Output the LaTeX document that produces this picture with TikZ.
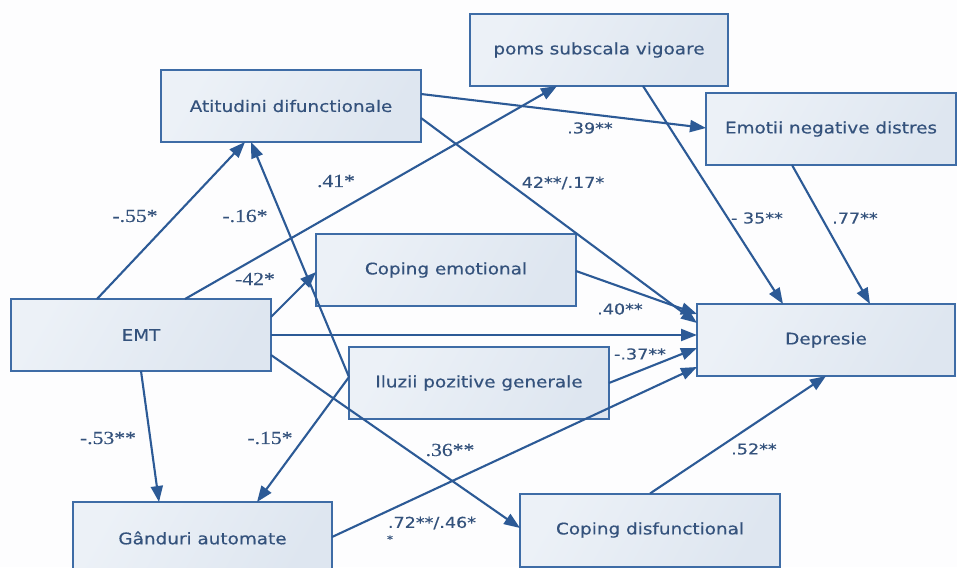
\documentclass[tikz,border=0pt]{standalone}
\usepackage{fontspec}
\usetikzlibrary{arrows.meta}
\newfontfamily\boxfont[FakeStretch=1.15,FakeBold=0.4]{DejaVu Sans}
\newfontfamily\lblsans[FakeStretch=1.17,FakeBold=0.3]{DejaVu Sans}
\newfontfamily\lblserif[FakeStretch=1.17,FakeBold=0.3]{Liberation Serif}
\definecolor{edgeblue}{RGB}{44,90,150}
\definecolor{frameblue}{RGB}{62,108,166}
\definecolor{fillA}{RGB}{236,241,247}
\definecolor{fillB}{RGB}{222,230,240}
\definecolor{txtblue}{RGB}{52,82,124}
\definecolor{bgwhite}{RGB}{253,253,254}
\begin{document}
\begin{tikzpicture}[x=1pt,y=-1pt,
  var/.style={draw=frameblue, line width=2pt, left color=fillA, right color=fillB,
    shading angle=60, minimum width=260pt, minimum height=72pt, inner sep=0pt,
    outer sep=0pt, text=txtblue, font=\boxfont\fontsize{16}{18}\selectfont},
  path/.style={draw=edgeblue, line width=2.1pt,
    -{Triangle[length=16pt,width=12pt]}},
  coefs/.style={text=txtblue, font=\lblsans\fontsize{15}{17}\selectfont, inner sep=0pt},
  coefr/.style={text=txtblue, font=\lblserif\fontsize{18.5}{20}\selectfont, inner sep=0pt}]

% canvas
\fill[bgwhite] (0,0) rectangle (957,567);
\useasboundingbox (0,0) rectangle (957,567);

% variables
\node[var] (att)  at (291,106) {Atitudini difunctionale};
\node[var, minimum width=258pt] (poms) at (599,50) {poms subscala vigoare};
\node[var, minimum width=250pt] (emo)  at (831,129) {Emotii negative distres};
\node[var] (cope) at (446,270) {Coping emotional};
\node[var] (emt)  at (141,335) {EMT};
\node[var, minimum width=258pt] (dep)  at (826,340) {Depresie};
\node[var] (ilu)  at (479,383) {Iluzii pozitive generale};
\node[var, minimum width=259pt] (gand) at (202.5,538) {Gânduri automate};
\node[var, minimum height=73pt] (cdis) at (650,530) {Coping disfunctional};

% paths leaving EMT
\draw[path] ([xshift=86pt]emt.north west) -- ([xshift=84pt]att.south west);
\draw[path] ([xshift=174pt]emt.north west) -- ([xshift=87pt]poms.south west);
\draw[path] ([yshift=18pt]emt.east) -- ([yshift=-2pt]cope.west);
\draw[path] (emt.east) -- ([yshift=5pt]dep.west);
\draw[path] ([yshift=-20pt]emt.east) -- ([yshift=2pt]cdis.west);
\draw[path] (emt.south) -- ([xshift=86pt]gand.north west);

% paths leaving Iluzii pozitive generale
\draw[path] ([yshift=6pt]ilu.west) -- ([xshift=90pt]att.south west);
\draw[path] ([yshift=6pt]ilu.west) -- ([xshift=184pt]gand.north west);
\draw[path] (ilu.east) -- ([yshift=-8pt]dep.west);

% paths leaving Atitudini difunctionale
\draw[path] ([yshift=12pt]att.east) -- ([yshift=1pt]emo.west);
\draw[path] ([yshift=-12pt]att.east) -- ([yshift=17pt]dep.west);

% remaining paths into Depresie
\draw[path] ([xshift=173pt]poms.south west) -- ([xshift=86pt]dep.north west);
\draw[path] ([xshift=86pt]emo.south west) -- ([xshift=173pt]dep.north west);
\draw[path] ([yshift=-1pt]cope.east) -- ([yshift=26pt]dep.west);
\draw[path] ([yshift=1pt]gand.east) -- ([yshift=-27pt]dep.west);
\draw[path] (cdis.north) -- (dep.south);

% coefficients
\node[coefr] (c55) at (135,216) {-.55*};
\node[coefr] (c16) at (245,216) {-.16*};
\node[coefr] (c41) at (336,181) {.41*};
\node[coefr] (c42) at (255,279) {-42*};
\node[coefr] (c53) at (108,438) {-.53**};
\node[coefr] (c15) at (270,438) {-.15*};
\node[coefr] (c36) at (450,450) {.36**};
\node[coefs] (c72) at (432,523) {.72**/.46*};
\node[coefs, font=\lblsans\fontsize{10}{12}\selectfont] (c72b) at (390,539) {*};
\node[coefs] (c39) at (590,128) {.39**};
\node[coefs] (c17) at (563,183) {42**/.17*};
\node[coefs] (c35) at (757,218) {- 35**};
\node[coefs] (c77) at (855,218) {.77**};
\node[coefs] (c40) at (620,309) {.40**};
\node[coefs] (c37) at (640,354) {-.37**};
\node[coefs] (c52) at (754,449) {.52**};
\end{tikzpicture}
\end{document}
